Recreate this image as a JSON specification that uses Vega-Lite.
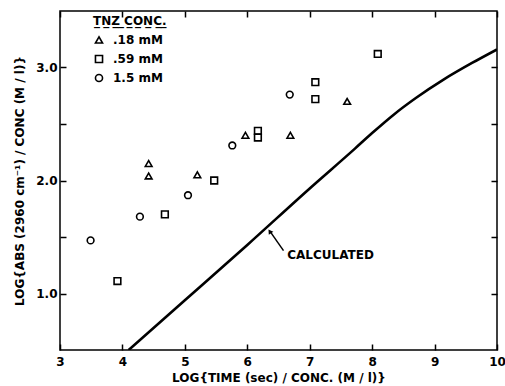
{
  "$schema": "https://vega.github.io/schema/vega-lite/v6.json",
  "autosize": "none",
  "width": 437,
  "height": 339,
  "padding": {"left": 60, "top": 11, "right": 8, "bottom": 36},
  "background": "white",
  "config": {
    "font": "DejaVu Sans",
    "view": {"stroke": "black", "strokeWidth": 1.5},
    "axis": {
      "domain": false, "grid": false, "tickColor": "black", "tickWidth": 1.5, "tickSize": -6, "zindex": 1, "labelFlush": false,
      "labelFont": "DejaVu Sans", "labelFontWeight": "bold", "labelFontSize": 12, "labelColor": "black",
      "titleFont": "DejaVu Sans", "titleFontWeight": "bold", "titleFontSize": 12, "titleColor": "black"
    }
  },
  "datasets": {
    "obs": [
      {"x": 3.49, "y": 1.47, "conc": "1.5 mM"},
      {"x": 4.28, "y": 1.68, "conc": "1.5 mM"},
      {"x": 5.05, "y": 1.87, "conc": "1.5 mM"},
      {"x": 5.76, "y": 2.31, "conc": "1.5 mM"},
      {"x": 6.68, "y": 2.76, "conc": "1.5 mM"},
      {"x": 3.92, "y": 1.11, "conc": ".59 mM"},
      {"x": 4.68, "y": 1.70, "conc": ".59 mM"},
      {"x": 5.47, "y": 2.00, "conc": ".59 mM"},
      {"x": 6.17, "y": 2.44, "conc": ".59 mM"},
      {"x": 6.17, "y": 2.38, "conc": ".59 mM"},
      {"x": 7.09, "y": 2.87, "conc": ".59 mM"},
      {"x": 7.09, "y": 2.72, "conc": ".59 mM"},
      {"x": 8.09, "y": 3.12, "conc": ".59 mM"},
      {"x": 4.42, "y": 2.15, "conc": ".18 mM"},
      {"x": 4.42, "y": 2.04, "conc": ".18 mM"},
      {"x": 5.20, "y": 2.05, "conc": ".18 mM"},
      {"x": 5.97, "y": 2.40, "conc": ".18 mM"},
      {"x": 6.69, "y": 2.40, "conc": ".18 mM"},
      {"x": 7.60, "y": 2.70, "conc": ".18 mM"}
    ],
    "calc": [
      {"x": 4.1, "y": 0.5},
      {"x": 5.0, "y": 0.94},
      {"x": 6.0, "y": 1.43},
      {"x": 7.0, "y": 1.93},
      {"x": 7.72, "y": 2.28},
      {"x": 8.0, "y": 2.42},
      {"x": 8.35, "y": 2.585},
      {"x": 8.7, "y": 2.73},
      {"x": 9.15, "y": 2.895},
      {"x": 9.6, "y": 3.04},
      {"x": 10.0, "y": 3.16}
    ],
    "note": [
      {"label": "CALCULATED", "tx": 6.64, "ty": 1.34, "x1": 6.58, "y1": 1.38, "x2": 6.37, "y2": 1.545, "hx": 6.36, "hy": 1.55}
    ]
  },
  "resolve": {"scale": {"x": "independent", "y": "independent"}},
  "layer": [
    {
      "layer": [
        {
          "data": {"name": "calc"},
          "mark": {"type": "line", "color": "black", "strokeWidth": 2.6, "interpolate": "monotone", "clip": true},
          "encoding": {
            "x": {"field": "x", "type": "quantitative", "scale": {"domain": [3, 10], "nice": false},
              "axis": {"orient": "bottom", "values": [3,4,5,6,7,8,9,10], "format": "d", "tickSize": -6, "title": "LOG{TIME (sec) / CONC. (M / l)}", "labelPadding": 12, "titlePadding": 5}},
            "y": {"field": "y", "type": "quantitative", "scale": {"domain": [0.5, 3.5], "nice": false, "zero": false},
              "axis": {"orient": "left", "values": [1, 1.5, 2, 2.5, 3], "tickSize": -6, "labelExpr": "datum.value % 1 === 0 ? format(datum.value, '.1f') : ''", "title": "LOG{ABS (2960 cm⁻¹) / CONC (M / l)}", "labelPadding": 9, "titlePadding": 9}}
          }
        },
        {
          "data": {"name": "obs"},
          "mark": {"type": "point", "filled": false, "color": "black", "strokeWidth": 1.6, "size": 45, "opacity": 1},
          "encoding": {
            "x": {"field": "x", "type": "quantitative"},
            "y": {"field": "y", "type": "quantitative"},
            "shape": {"field": "conc", "type": "nominal",
              "scale": {"domain": [".18 mM", ".59 mM", "1.5 mM"], "range": ["triangle-up", "square", "circle"]},
              "legend": {"title": "T̲N̲Z̲ ̲C̲O̲N̲C̲.̲", "orient": "none", "legendX": 33, "legendY": 5,
                "titleFont": "DejaVu Sans", "titleFontWeight": "bold", "titleFontSize": 12, "titleColor": "black", "titlePadding": 6,
                "labelFont": "DejaVu Sans", "labelFontWeight": "bold", "labelFontSize": 12, "labelColor": "black",
                "symbolStrokeColor": "black", "symbolStrokeWidth": 1.6, "symbolSize": 50, "symbolFillColor": "white", "rowPadding": 5, "labelOffset": 8}}
          }
        },
        {
          "data": {"name": "note"},
          "mark": {"type": "text", "align": "left", "baseline": "middle", "fontWeight": "bold", "fontSize": 12, "color": "black"},
          "encoding": {
            "x": {"field": "tx", "type": "quantitative"},
            "y": {"field": "ty", "type": "quantitative"},
            "text": {"field": "label"}
          }
        },
        {
          "data": {"name": "note"},
          "mark": {"type": "rule", "color": "black", "strokeWidth": 1.5},
          "encoding": {
            "x": {"field": "x1", "type": "quantitative"},
            "y": {"field": "y1", "type": "quantitative"},
            "x2": {"field": "x2"},
            "y2": {"field": "y2"}
          }
        },
        {
          "data": {"name": "note"},
          "mark": {"type": "point", "shape": "triangle-up", "filled": true, "color": "black", "size": 30, "angle": 326, "opacity": 1},
          "encoding": {
            "x": {"field": "hx", "type": "quantitative"},
            "y": {"field": "hy", "type": "quantitative"}
          }
        }
      ]
    },
    {
      "data": {"name": "calc"},
      "mark": {"type": "line", "opacity": 0},
      "encoding": {
        "x": {"field": "x", "type": "quantitative", "scale": {"domain": [3, 10], "nice": false},
          "axis": {"orient": "top", "values": [3,4,5,6,7,8,9,10], "tickSize": -6, "labels": false, "title": null}},
        "y": {"field": "y", "type": "quantitative", "scale": {"domain": [0.5, 3.5], "nice": false, "zero": false},
          "axis": {"orient": "right", "values": [1, 1.5, 2, 2.5, 3], "tickSize": -6, "labels": false, "title": null}}
      }
    }
  ]
}
